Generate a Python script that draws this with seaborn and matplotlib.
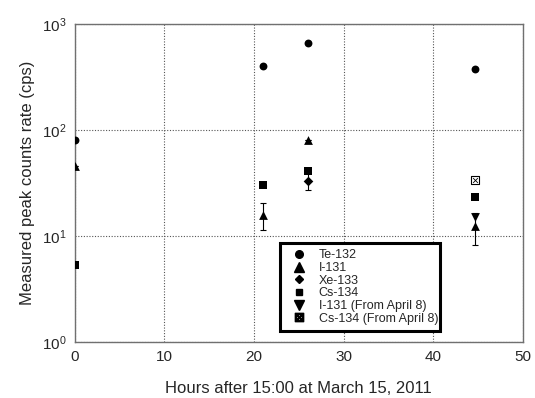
import matplotlib
matplotlib.use("Agg")
import matplotlib.pyplot as plt
import seaborn as sns
from matplotlib.lines import Line2D

sns.set_style("white")
plt.rcParams['font.family'] = ['Liberation Sans', 'DejaVu Sans']

# Data
te_x = [0, 21, 26, 44.6]
te_y = [80, 400, 655, 380]
i_x = [0, 21, 26, 44.6]
i_y = [46, 15.8, 80, 12.4]
i_err_lo = [0, 4.3, 0, 4.2]
i_err_hi = [0, 4.8, 0, 4.2]
xe_x = [26]
xe_y = [33]
xe_err = [6]
cs_x = [0, 21, 26, 44.6]
cs_y = [5.3, 30.3, 41, 23.3]
i_apr_x = [44.6]
i_apr_y = [15.1]
cs_apr_x = [44.6]
cs_apr_y = [33.7]

labels = ["Te-132", "I-131", "Xe-133", "Cs-134", "I-131 (From April 8)", "Cs-134 (From April 8)"]

fig = plt.figure(figsize=(5.35, 3.98), dpi=100)
ax = fig.add_axes([0.1396, 0.1407, 0.8380, 0.7990])

ax.errorbar(i_x, i_y, yerr=[i_err_lo, i_err_hi], fmt='none', ecolor='black', elinewidth=0.8, capsize=2.5, capthick=0.8, zorder=2)
ax.errorbar(xe_x, xe_y, yerr=xe_err, fmt='none', ecolor='black', elinewidth=0.8, capsize=2.5, capthick=0.8, zorder=2)

kw = dict(color='black', edgecolor='black', linewidth=0, legend=False, ax=ax, zorder=3)
sns.scatterplot(x=te_x, y=te_y, marker='o', s=32, **kw)
sns.scatterplot(x=i_x, y=i_y, marker='^', s=40, **kw)
sns.scatterplot(x=xe_x, y=xe_y, marker='D', s=24, **kw)
sns.scatterplot(x=cs_x, y=cs_y, marker='s', s=30, **kw)
sns.scatterplot(x=i_apr_x, y=i_apr_y, marker='v', s=40, **kw)
sns.scatterplot(x=cs_apr_x, y=cs_apr_y, marker='s', s=26, color='white', edgecolor='black', linewidth=0.8, legend=False, ax=ax, zorder=3)
sns.scatterplot(x=cs_apr_x, y=cs_apr_y, marker='x', s=12, color='black', linewidth=0.6, legend=False, ax=ax, zorder=4)

ax.set_yscale('log')
ax.set_xlim(0, 50)
ax.set_ylim(1, 1000)
ax.set_xticks([0, 10, 20, 30, 40, 50])
ax.set_yticks([1, 10, 100, 1000])
ax.minorticks_off()
ax.grid(True, which='major', linestyle=(0, (1, 1.5)), color='#555555', linewidth=0.8)
ax.tick_params(direction='in', length=3, labelsize=11, color='#555555', pad=6)
for sp in ax.spines.values():
    sp.set_color('#707070')
    sp.set_linewidth(1.0)

ax.set_xlabel("Hours after 15:00 at March 15, 2011", fontsize=12, labelpad=12)
ax.set_ylabel("Measured peak counts rate (cps)", fontsize=12, labelpad=5)

handles = [
    Line2D([], [], marker='o', color='black', linestyle='none', markersize=5.5),
    Line2D([], [], marker='^', color='black', linestyle='none', markersize=6.5),
    Line2D([], [], marker='D', color='black', linestyle='none', markersize=4.5),
    Line2D([], [], marker='s', color='black', linestyle='none', markersize=5),
    Line2D([], [], marker='v', color='black', linestyle='none', markersize=6.5),
    Line2D([], [], marker='$\u22A0$', color='black', linestyle='none', markersize=6),
]
leg = ax.legend(handles, labels, loc='lower left', bbox_to_anchor=(0.458, 0.035, 0.357, 0.276),
                mode='expand', fontsize=9, frameon=True, fancybox=False, framealpha=1, borderpad=0.5,
                labelspacing=0.05, handletextpad=0.6, handlelength=2.0, borderaxespad=0)
leg.get_frame().set_edgecolor('black')
leg.get_frame().set_linewidth(2.2)
leg.set_zorder(5)

fig.savefig("out.png", dpi=100)
